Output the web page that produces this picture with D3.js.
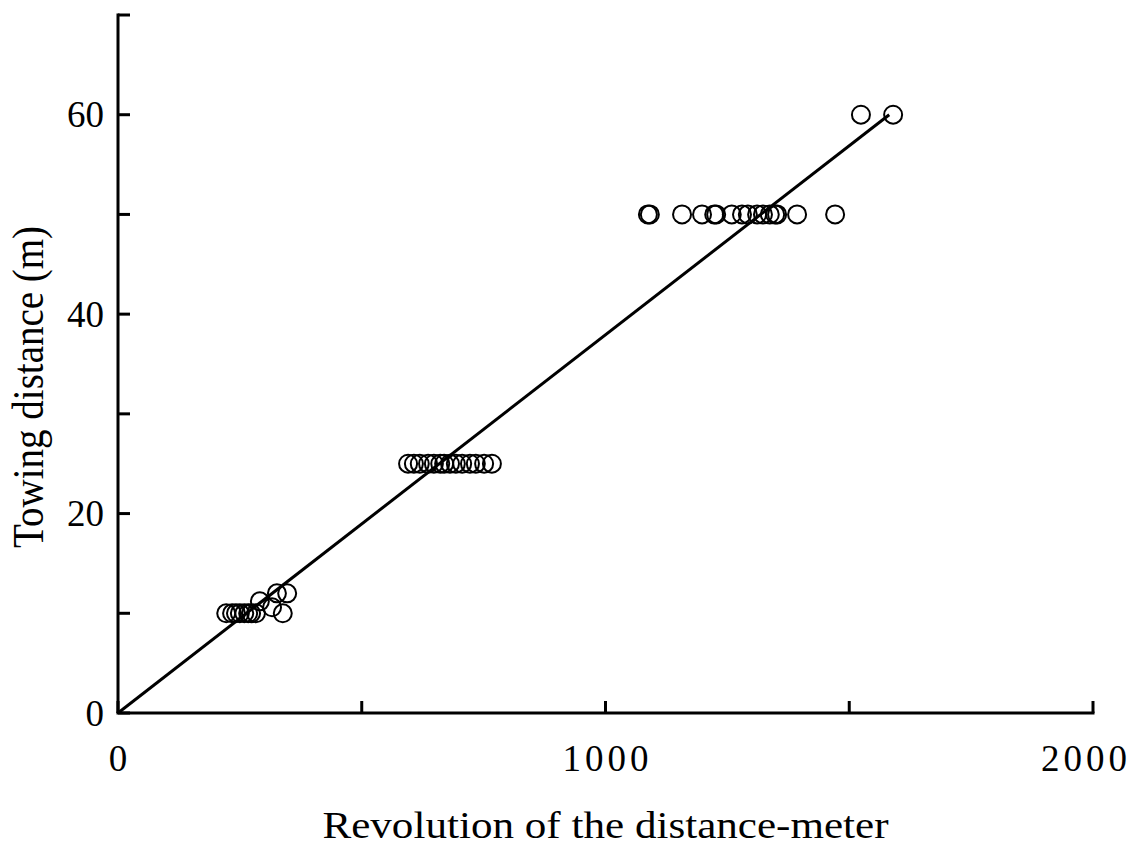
<!DOCTYPE html>
<html>
<head>
<meta charset="utf-8">
<script src="https://cdn.jsdelivr.net/npm/d3@7"></script>
<style>
  body { margin: 0; background: #fff; }
  text { font-family: "Liberation Serif", "Times New Roman", serif; fill: #000; }
</style>
</head>
<body>
<div id="chart"></div>
<script>
// revolution counts and towing distances
const revolutions = [
  222, 234, 242, 250, 259, 267, 273, 283, 316, 338, 291, 326, 347,
  595, 607, 619, 636, 648, 661, 669, 681, 693, 706, 722, 734, 751, 767,
  1087, 1091, 1157, 1198, 1223, 1227, 1259, 1280, 1292, 1311, 1323, 1337, 1348, 1352, 1393, 1471,
  1524, 1590
];
const distances = [
  10, 10, 10, 10, 10, 10, 10, 10, 10.6, 10, 11.2, 12, 12,
  25, 25, 25, 25, 25, 25, 25, 25, 25, 25, 25, 25, 25, 25,
  50, 50, 50, 50, 50, 50, 50, 50, 50, 50, 50, 50, 50, 50, 50, 50,
  60, 60
];
const fitLine = [[0, 0], [1582, 60]];
const xTicks = [0, 500, 1000, 1500, 2000];
const xLabels = [0, 1000, 2000];
const yTicks = [0, 10, 20, 30, 40, 50, 60, 70];
const yLabels = [0, 20, 40, 60];

const width = 1137, height = 846;
const margin = { top: 15, right: 44, bottom: 133, left: 118 };

const svg = d3.select("#chart").append("svg")
  .attr("width", width)
  .attr("height", height);

const x = d3.scaleLinear().domain([0, 2000]).range([margin.left, width - margin.right]);
const y = d3.scaleLinear().domain([0, 70]).range([height - margin.bottom, margin.top]);

// axes lines
svg.append("line")
  .attr("x1", x(0) - 1.5).attr("x2", x(2000) + 1.5)
  .attr("y1", y(0)).attr("y2", y(0))
  .attr("stroke", "#000").attr("stroke-width", 3);
svg.append("line")
  .attr("x1", x(0)).attr("x2", x(0))
  .attr("y1", y(0)).attr("y2", y(70) - 1.5)
  .attr("stroke", "#000").attr("stroke-width", 3);

// ticks pointing inward
svg.selectAll(".xtick").data(xTicks).enter().append("line")
  .attr("x1", d => x(d)).attr("x2", d => x(d))
  .attr("y1", y(0)).attr("y2", y(0) - 12)
  .attr("stroke", "#000").attr("stroke-width", 3);
svg.selectAll(".ytick").data(yTicks).enter().append("line")
  .attr("x1", x(0)).attr("x2", x(0) + 12)
  .attr("y1", d => y(d)).attr("y2", d => y(d))
  .attr("stroke", "#000").attr("stroke-width", 3);

const xLab = svg.selectAll(".xlab").data(xLabels).enter().append("text")
  .attr("class", "xlab")
  .attr("x", d => x(d) + 2)
  .attr("y", y(0) + 58)
  .attr("text-anchor", "middle")
  .attr("font-size", "37px")
  .attr("letter-spacing", "4px")
  .text(d => d);
// keep the last label inside the picture
xLab.each(function () {
  const b = this.getBBox();
  const over = b.x + b.width - (width - 6);
  if (over > 0) d3.select(this).attr("x", +d3.select(this).attr("x") - over);
});

svg.selectAll(".ylab").data(yLabels).enter().append("text")
  .attr("x", x(0) - 14)
  .attr("y", d => y(d))
  .attr("dy", "0.34em")
  .attr("text-anchor", "end")
  .attr("font-size", "37px")
  .text(d => d);

svg.append("text")
  .attr("transform", "translate(" + x(1000) + ",838) scale(1.12,1)")
  .attr("text-anchor", "middle")
  .attr("font-size", "38.5px")
  .text("Revolution of the distance-meter");
svg.append("text")
  .attr("transform", "translate(43," + y(32.7) + ") rotate(-90) scale(1,1.12)")
  .attr("text-anchor", "middle")
  .attr("font-size", "39px")
  .text("Towing distance (m)");

// regression line
svg.append("line")
  .attr("x1", x(fitLine[0][0])).attr("y1", y(fitLine[0][1]))
  .attr("x2", x(fitLine[1][0])).attr("y2", y(fitLine[1][1]))
  .attr("stroke", "#000").attr("stroke-width", 3);

// data points
svg.selectAll(".pt").data(revolutions).enter().append("circle")
  .attr("cx", d => x(d))
  .attr("cy", (d, i) => y(distances[i]))
  .attr("r", 9)
  .attr("fill", "none")
  .attr("stroke", "#000")
  .attr("stroke-width", 2);
</script>
</body>
</html>
